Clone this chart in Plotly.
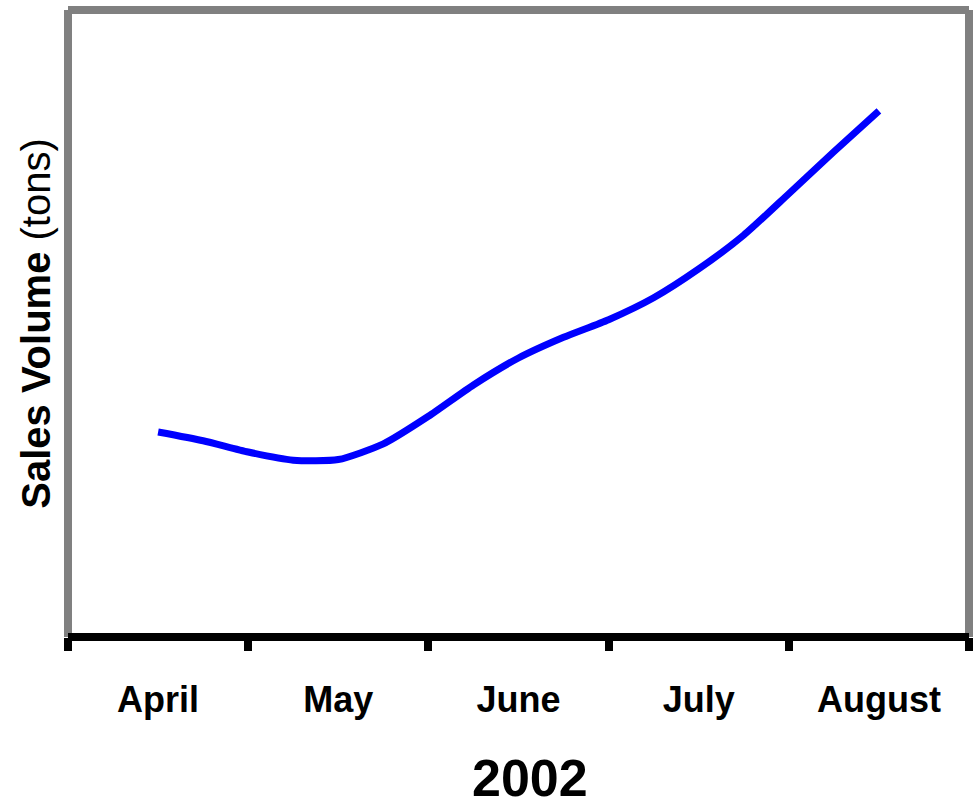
import plotly.graph_objects as go

# Months shown on the category axis (2002)
months = ["April", "May", "June", "July", "August"]
year_label = "2002"

# Sampling positions in month units (0 = mid-April ... 4 = mid-August)
sample_pos = [0.0, 0.25, 0.5, 0.75, 1.0, 1.25, 1.5, 1.75, 2.0,
              2.25, 2.5, 2.75, 3.0, 3.25, 3.5, 3.75, 4.0]

# Sales volume in tons at each sampling position
sales_tons = [32.7, 31.3, 29.5, 28.2, 28.3, 30.8, 35.2, 40.2, 44.5,
              47.8, 50.6, 54.1, 58.7, 64.1, 70.7, 77.4, 83.9]

FONT = "Liberation Sans, Arial, sans-serif"
GRAY = "#808080"

fig = go.Figure()
fig.add_trace(go.Scatter(
    x=sample_pos, y=sales_tons, mode="lines",
    line=dict(color="#0000FF", width=7, shape="spline", smoothing=0.6),
    hoverinfo="skip", showlegend=False,
))

fig.update_layout(
    width=975, height=799,
    margin=dict(l=68, r=6, t=10, b=162),
    paper_bgcolor="white", plot_bgcolor="white",
    font=dict(family=FONT, color="black"),
    xaxis=dict(
        range=[-0.5, len(months) - 0.5], automargin=False,
        tickmode="array", tickvals=list(range(len(months))), ticktext=months,
        ticks="", showgrid=False, zeroline=False,
        tickfont=dict(family=FONT, size=36, color="black", weight="bold"),
        ticklabelstandoff=38,
        minor=dict(tickmode="linear", tick0=-0.5, dtick=1, ticks="outside",
                   ticklen=13, tickwidth=8, tickcolor="black", showgrid=False),
        showline=False,
    ),
    yaxis=dict(
        range=[0, 100], automargin=False, showticklabels=False, ticks="",
        showgrid=False, zeroline=False, showline=False,
        title=dict(text="<b>Sales Volume</b> (tons)", standoff=4,
                   font=dict(family=FONT, size=40, color="black")),
    ),
    annotations=[
        # year caption under the month labels
        dict(text=year_label, xref="paper", yref="paper", x=0.5, y=0,
             xanchor="center", yanchor="middle", xshift=11, yshift=-141,
             showarrow=False,
             font=dict(family=FONT, size=52, color="black", weight="bold")),
    ],
    shapes=[
        # gray frame on left, top and right
        dict(type="line", xref="paper", yref="paper", x0=0, x1=0, y0=0, y1=1,
             line=dict(color=GRAY, width=8)),
        dict(type="line", xref="paper", yref="paper", x0=0, x1=1, y0=1, y1=1,
             line=dict(color=GRAY, width=8)),
        dict(type="line", xref="paper", yref="paper", x0=1, x1=1, y0=0, y1=1,
             line=dict(color=GRAY, width=8)),
        # black baseline
        dict(type="line", xref="paper", yref="paper", x0=0, x1=1, y0=0, y1=0,
             line=dict(color="black", width=8)),
    ],
)

fig.write_html("out.html")
